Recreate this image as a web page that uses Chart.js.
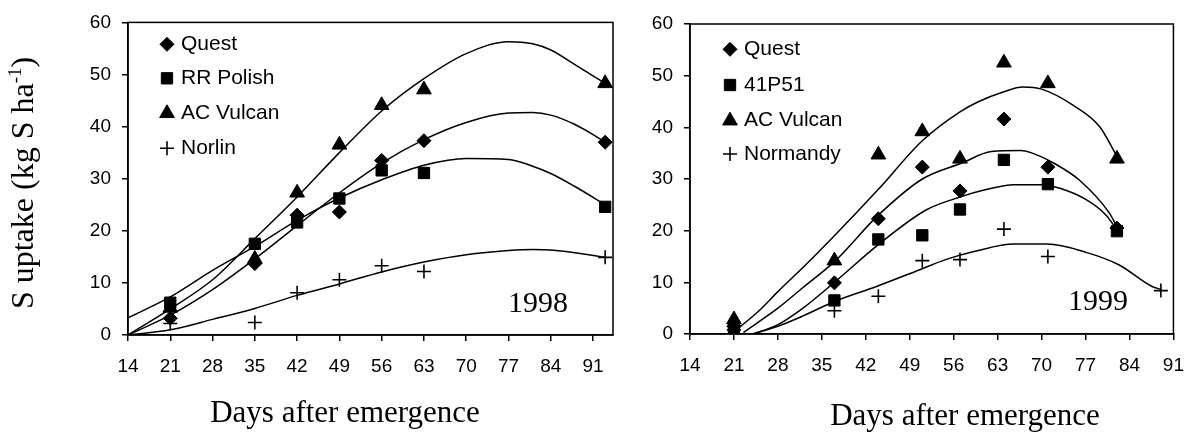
<!DOCTYPE html>
<html>
<head>
<meta charset="utf-8">
<script src="https://cdn.jsdelivr.net/npm/chart.js@4.4.1/dist/chart.umd.min.js"></script>
<style>
  body { margin: 0; background: #fff; width: 1198px; height: 432px; overflow: hidden; position: relative; }
  .box { position: absolute; top: 0; height: 432px; }
</style>
</head>
<body>
<div class="box" style="left:0;width:640px"><canvas id="c98"></canvas></div>
<div class="box" style="left:640px;width:558px"><canvas id="c99"></canvas></div>
<script>
const xTicks = [14, 21, 28, 35, 42, 49, 56, 63, 70, 77, 84, 91];
const yTicks = [0, 10, 20, 30, 40, 50, 60];

// 1998 measured uptake
const days98 = [21, 35, 42, 49, 56, 63, 93];
const quest98 = [3.2, 13.7, 23.0, 23.6, 33.5, 37.3, 37.0];
const rrPolish98 = [6.2, 17.5, 21.6, 26.2, 31.6, 31.1, 24.6];
const vulcan98 = [5.2, 14.6, 27.3, 36.5, 44.1, 47.1, 48.3];
const norlin98 = [2.2, 2.4, 8.1, 10.6, 13.3, 12.2, 14.9];

// 1998 fitted curves
const fitDays98 = [14, 21, 28, 35, 42, 49, 56, 63, 70, 77, 81, 84, 88, 93];
const questFit98 = [0, 3.8, 8.7, 14.6, 21.0, 27.3, 33.0, 37.5, 40.8, 42.6, 42.7, 42.2, 40.4, 37.1];
const rrPolishFit98 = [3.3, 7.3, 12.4, 17.0, 22.0, 26.3, 29.8, 32.6, 33.9, 33.7, 32.4, 31.0, 28.5, 25.0];
const vulcanFit98 = [0, 5.0, 10.6, 18.5, 26.5, 35.0, 43.0, 49.2, 54.0, 56.3, 55.9, 54.7, 51.9, 48.3];
const norlinFit98 = [0, 1.0, 3.0, 5.1, 7.6, 9.8, 12.1, 14.0, 15.4, 16.2, 16.4, 16.3, 15.8, 14.9];

// 1999 measured uptake
const days99 = [21, 37, 44, 51, 57, 64, 71, 82];
const quest99 = [1.5, 9.9, 22.3, 32.3, 27.7, 41.6, 32.3, 20.5];
const p41P51_99 = [0.8, 6.5, 18.3, 19.1, 24.1, 33.7, 29.0, 19.9];
const vulcan99 = [2.8, 14.2, 34.7, 39.2, 33.9, 52.5, 48.5, 33.9];
const normandyDays99 = [21, 37, 44, 51, 57, 64, 71, 89];
const normandy99 = [0.8, 4.5, 7.3, 14.2, 14.4, 20.3, 15.0, 8.4];

// 1999 fitted curves
const questFitDays99 = [22.5, 28, 32, 37, 44, 51, 57.3, 62, 66.7, 68.3, 71.9, 76, 80.8, 82];
const questFit99 = [0.3, 5.0, 9.0, 14.0, 23.0, 30.0, 33.1, 35.3, 35.5, 35.1, 33.1, 29.8, 23.4, 20.8];
const p41P51FitDays99 = [24, 28, 32, 37, 44, 51.6, 57, 61, 65.6, 69.8, 72.9, 77.1, 80.2, 82];
const p41P51Fit99 = [0, 1.8, 5.0, 10.0, 17.3, 24.0, 26.5, 27.9, 28.9, 28.9, 28.2, 26.0, 23.1, 20.2];
const vulcanFitDays99 = [21.8, 25, 28, 31, 34, 37, 44, 51, 57, 60, 64, 67, 70, 75, 79.2, 82];
const vulcanFit99 = [1.2, 4.5, 8.2, 11.7, 15.3, 19.0, 28.0, 37.4, 43.0, 45.0, 46.9, 47.8, 47.4, 44.3, 40.2, 34.4];
const normandyFitDays99 = [24, 28, 32, 37, 43.7, 50.5, 54.7, 59.4, 65.6, 70.9, 77.1, 82.3, 87.6, 89.1];
const normandyFit99 = [0, 1.5, 3.5, 6.3, 9.2, 12.4, 14.4, 16.0, 17.4, 17.4, 15.8, 13.4, 9.2, 8.6];

const pts = (xs, ys) => xs.map((x, i) => ({x: x, y: ys[i]}));

const SANS = '"Liberation Sans", Arial, sans-serif';
const SERIF = '"Liberation Serif", "Times New Roman", serif';

const marker = {
  diamond: {pointStyle: 'rectRot', radius: 7, borderWidth: 1},
  square: {pointStyle: 'rect', radius: 8, borderWidth: 1},
  triangle: {pointStyle: 'triangle', radius: 8.5, borderWidth: 1},
  plus: {pointStyle: 'cross', radius: 7, borderWidth: 1.6}
};

function drawMark(ctx, m, x, y) {
  ctx.save();
  ctx.fillStyle = '#000';
  ctx.strokeStyle = '#000';
  ctx.lineWidth = m.borderWidth;
  Chart.helpers.drawPoint(ctx, {pointStyle: m.pointStyle, radius: m.radius, borderWidth: m.borderWidth, rotation: 0}, x, y);
  ctx.restore();
}

function framePlugin(o) {
  return {
    id: 'frame',
    afterDraw(chart) {
      const ctx = chart.ctx;
      const a = chart.chartArea;
      ctx.save();
      ctx.strokeStyle = '#000';
      ctx.lineWidth = 1.5;
      ctx.strokeRect(a.left, a.top, a.right - a.left, a.bottom - a.top);

      // legend inside the plot
      ctx.font = '21px ' + SANS;
      ctx.fillStyle = '#000';
      ctx.textBaseline = 'middle';
      ctx.textAlign = 'left';
      o.series.forEach((s, i) => {
        const y = o.legendRows[i];
        drawMark(ctx, marker[s.mark], o.legendX, y);
        ctx.fillText(s.label, o.legendTextX, y);
      });

      // year
      ctx.font = '30px ' + SERIF;
      ctx.textBaseline = 'alphabetic';
      ctx.fillText(o.year, o.yearX, o.yearY);

      // x title
      ctx.font = '31px ' + SERIF;
      ctx.textAlign = 'center';
      ctx.fillText('Days after emergence', o.xTitleX, o.xTitleY);

      // y title with superscript
      if (o.yTitle) {
        ctx.translate(33, 183);
        ctx.rotate(-Math.PI / 2);
        ctx.textAlign = 'left';
        const main = 'S uptake (kg S ha', sup = '-1', close = ')';
        ctx.font = '32px ' + SERIF;
        const w1 = ctx.measureText(main).width, w3 = ctx.measureText(close).width;
        ctx.font = '19px ' + SERIF;
        const w2 = ctx.measureText(sup).width;
        let u = -(w1 + w2 + w3) / 2;
        ctx.font = '32px ' + SERIF;
        ctx.fillText(main, u, 0);
        u += w1;
        ctx.font = '19px ' + SERIF;
        ctx.fillText(sup, u, -12);
        u += w2;
        ctx.font = '32px ' + SERIF;
        ctx.fillText(close, u, 0);
      }
      ctx.restore();
    }
  };
}

function buildChart(id, o) {
  const datasets = [];
  o.fits.forEach(f => {
    datasets.push({
      data: pts(f.days, f.vals), showLine: true, borderColor: '#000', borderWidth: 1.5,
      pointRadius: 0, cubicInterpolationMode: 'monotone', fill: false, order: 2
    });
  });
  o.series.forEach(s => {
    const m = marker[s.mark];
    datasets.push({
      label: s.label, data: pts(s.days, s.vals), showLine: false,
      pointStyle: m.pointStyle, pointRadius: m.radius, borderWidth: m.borderWidth,
      backgroundColor: '#000', borderColor: '#000', order: 1
    });
  });
  const tickFont = {family: SANS, size: 19};
  return new Chart(document.getElementById(id), {
    type: 'scatter',
    data: {datasets: datasets},
    options: {
      animation: false,
      responsive: true,
      maintainAspectRatio: false,
      layout: {padding: {top: o.top, right: o.padRight, left: 0, bottom: 0}},
      plugins: {legend: {display: false}, tooltip: {enabled: false}},
      scales: {
        x: {
          type: 'linear', min: 14, max: o.xMax,
          afterBuildTicks: s => { s.ticks = xTicks.map(v => ({value: v})); },
          afterFit: s => { s.height = 432 - o.bottom; },
          grid: {drawOnChartArea: false, drawTicks: true, tickLength: 6, color: '#000', lineWidth: 1.5},
          border: {color: '#000', width: 1.5},
          ticks: {color: '#000', font: tickFont, padding: 14, maxRotation: 0, autoSkip: false}
        },
        y: {
          type: 'linear', min: 0, max: 60,
          afterBuildTicks: s => { s.ticks = yTicks.map(v => ({value: v})); },
          afterFit: s => { s.width = o.left; },
          grid: {drawOnChartArea: false, drawTicks: true, tickLength: 6, color: '#000', lineWidth: 1.5},
          border: {color: '#000', width: 1.5},
          ticks: {color: '#000', font: tickFont, padding: 11}
        }
      }
    },
    plugins: [framePlugin(o)]
  });
}

buildChart('c98', {
  left: 128, top: 20, bottom: 335, padRight: 27, xMax: 94.3,
  legendX: 167, legendTextX: 181, legendRows: [44.3, 78.3, 113.3, 148.3],
  year: '1998', yearX: 508, yearY: 312,
  xTitleX: 345, xTitleY: 422, yTitle: true,
  series: [
    {label: 'Quest', mark: 'diamond', days: days98, vals: quest98},
    {label: 'RR Polish', mark: 'square', days: days98, vals: rrPolish98},
    {label: 'AC Vulcan', mark: 'triangle', days: days98, vals: vulcan98},
    {label: 'Norlin', mark: 'plus', days: days98, vals: norlin98}
  ],
  fits: [
    {days: fitDays98, vals: questFit98},
    {days: fitDays98, vals: rrPolishFit98},
    {days: fitDays98, vals: vulcanFit98},
    {days: fitDays98, vals: norlinFit98}
  ]
});

buildChart('c99', {
  left: 50, top: 24, bottom: 334, padRight: 16, xMax: 91,
  legendX: 90, legendTextX: 104, legendRows: [49.3, 85, 120.7, 154],
  year: '1999', yearX: 428, yearY: 310,
  xTitleX: 325, xTitleY: 425, yTitle: false,
  series: [
    {label: 'Quest', mark: 'diamond', days: days99, vals: quest99},
    {label: '41P51', mark: 'square', days: days99, vals: p41P51_99},
    {label: 'AC Vulcan', mark: 'triangle', days: days99, vals: vulcan99},
    {label: 'Normandy', mark: 'plus', days: normandyDays99, vals: normandy99}
  ],
  fits: [
    {days: questFitDays99, vals: questFit99},
    {days: p41P51FitDays99, vals: p41P51Fit99},
    {days: vulcanFitDays99, vals: vulcanFit99},
    {days: normandyFitDays99, vals: normandyFit99}
  ]
});
</script>
</body>
</html>
